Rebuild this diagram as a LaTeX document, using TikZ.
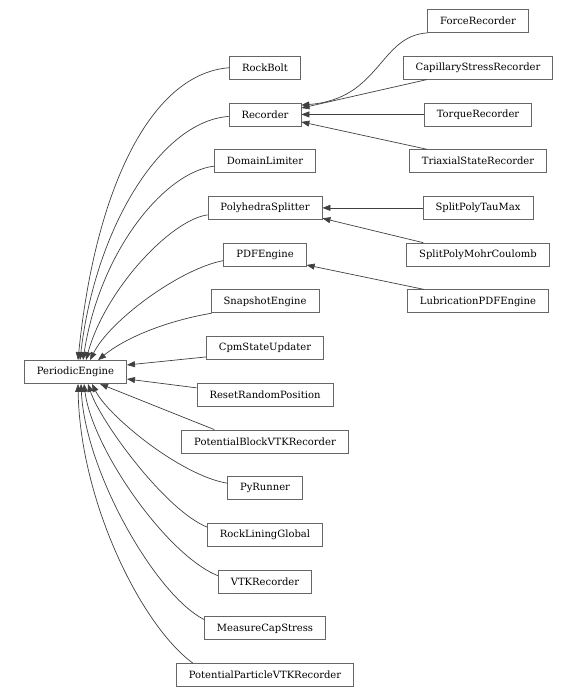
\documentclass[tikz,border=0pt]{standalone}
\usepackage{fontspec}
\setmainfont{DejaVu Serif}
\usetikzlibrary{arrows.meta}

\begin{document}
\begin{tikzpicture}[x=1pt,y=-1pt,
    cls/.style={draw=black!60, line width=0.8pt, fill=white, font=\fontsize{10}{12}\selectfont,
      minimum height=23pt, inner xsep=12.5pt, inner ysep=0pt},
    inh/.style={draw=black!75, line width=0.7pt, -{Triangle[length=8pt,width=6pt]}}]
    \useasboundingbox (0,0) rectangle (578,696);
    % ===== BASE CLASS =====
    \node[cls] (pe) at (75.5,372) {PeriodicEngine};
    % ===== FIRST LEVEL: one row each =====
    \foreach \n/\lab [count=\i] in {rb/RockBolt, rec/Recorder, dl/DomainLimiter, ps/PolyhedraSplitter,
        pdf/PDFEngine, snap/SnapshotEngine, cpm/CpmStateUpdater, reset/ResetRandomPosition,
        pbvtk/PotentialBlockVTKRecorder, py/PyRunner, rlg/RockLiningGlobal, vtk/VTKRecorder,
        mcs/MeasureCapStress, ppvtk/PotentialParticleVTKRecorder} {
        \node[cls] (\n) at (265,{21+46.72*\i}) {\lab};
    }
    % ===== SECOND LEVEL =====
    \foreach \n/\lab [count=\i from 0] in {fr/ForceRecorder, csr/CapillaryStressRecorder, tq/TorqueRecorder,
        tsr/TriaxialStateRecorder, sptm/SplitPolyTauMax, spmc/SplitPolyMohrCoulomb, lpe/LubricationPDFEngine} {
        \node[cls] (\n) at (478,{21+46.72*\i}) {\lab};
    }
    % ===== Edges into the top of PeriodicEngine =====
    \draw[inh] (rb.west) .. controls +(-79,6) and +(17,-170) .. ([xshift=2.5pt]pe.north);
    \draw[inh] ([yshift=-2pt]rec.west) .. controls +(-69,5) and +(15,-130) .. ([xshift=4.5pt]pe.north);
    \draw[inh] ([yshift=-5pt]dl.west) .. controls +(-49,6) and +(17,-110) .. ([xshift=7.5pt]pe.north);
    \draw[inh] ([yshift=-7pt]ps.west) .. controls +(-37,5) and +(19,-70) .. ([xshift=10.5pt]pe.north);
    \draw[inh] ([yshift=-6pt]pdf.west) .. controls +(-43,8) and +(20,-40) .. ([xshift=14.5pt]pe.north);
    \draw[inh] ([xshift=1pt]snap.south west) .. controls +(-36,6) and +(32,-26) .. ([xshift=22.5pt]pe.north);
    % ===== Edges into the side =====
    \draw[inh] ([yshift=3pt]cpm.south west) -- ([yshift=7pt]pe.east);
    \draw[inh] ([yshift=-5pt]reset.north west) -- ([yshift=-7pt]pe.east);
    % ===== Edges into the bottom =====
    \draw[inh] ([xshift=33pt]pbvtk.north west) -- ([xshift=24.5pt]pe.south);
    \draw[inh] ([yshift=5pt]py.west) .. controls +(-47,-8) and +(16,32) .. ([xshift=16.5pt]pe.south);
    \draw[inh] ([yshift=-4pt]rlg.north west) .. controls +(-42,-17) and +(12,37) .. ([xshift=12.5pt]pe.south);
    \draw[inh] ([yshift=-6pt]vtk.north west) .. controls +(-52,-21) and +(8,64) .. ([xshift=8.5pt]pe.south);
    \draw[inh] ([yshift=-3pt]mcs.north west) .. controls +(-49,-25) and +(4,87) .. ([xshift=5.5pt]pe.south);
    \draw[inh] ([xshift=17pt]ppvtk.north west) .. controls +(-52,-38) and +(2,117) .. ([xshift=2.5pt]pe.south);
    % ===== Second level edges =====
    \draw[inh] (fr.south west) .. controls +(-48,3) and +(79,-6) .. ([yshift=-2.5pt]rec.north east);
    \draw[inh] ([xshift=24pt]csr.south west) -- ([yshift=-5.5pt]rec.north east);
    \draw[inh] (tq.west) -- (rec.east);
    \draw[inh] ([xshift=18pt]tsr.north west) -- ([yshift=-7.5pt]rec.east);
    \draw[inh] (sptm.west) -- (ps.east);
    \draw[inh] ([xshift=17pt]spmc.north west) -- ([yshift=1.5pt]ps.south east);
    \draw[inh] ([xshift=17pt]lpe.north west) -- ([yshift=1.5pt]pdf.south east);
\end{tikzpicture}
\end{document}
